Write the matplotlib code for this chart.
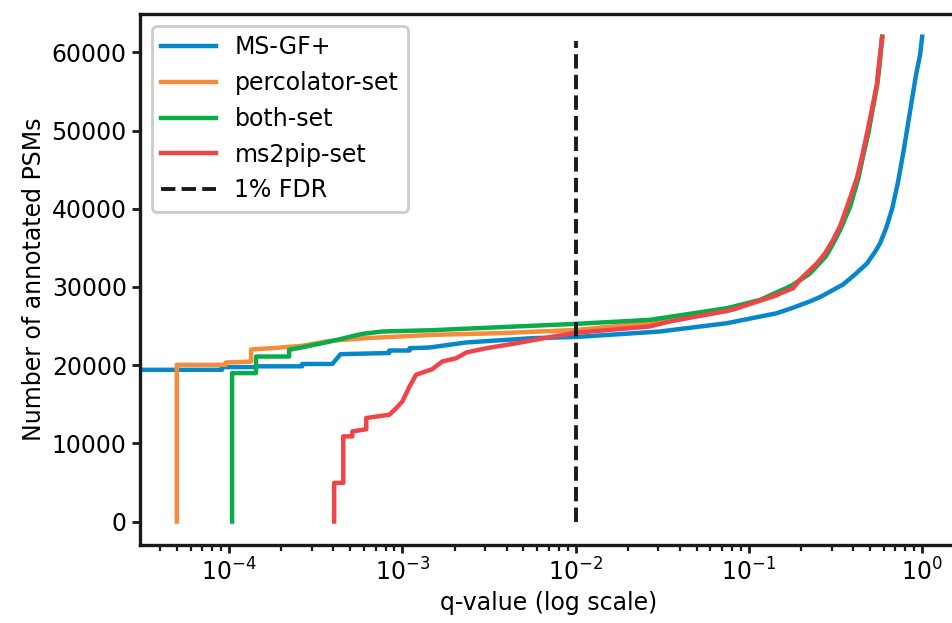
import matplotlib
matplotlib.use("Agg")
import matplotlib.pyplot as plt

# q-value / cumulative PSM count pairs
msgf_q = [1.2e-5, 9.1e-5, 9.1e-5, 1.43e-4, 1.43e-4, 2.64e-4, 2.64e-4, 3.94e-4, 4.4e-4,
          8.4e-4, 8.4e-4, 1.1e-3, 1.1e-3, 1.43e-3, 2.34e-3, 5.64e-3, 0.0101, 0.0306,
          0.0746, 0.145, 0.18, 0.225, 0.26, 0.294, 0.349, 0.41, 0.481, 0.535, 0.572,
          0.619, 0.671, 0.727, 0.787, 0.852, 0.923, 0.973, 1.0]
msgf_n = [19400, 19400, 19750, 19750, 19850, 19850, 20150, 20150, 21400,
          21550, 21870, 21870, 22170, 22250, 22900, 23450, 23600, 24300,
          25360, 26640, 27350, 28150, 28750, 29400, 30300, 31600, 33020, 34500, 35600,
          37500, 40000, 43500, 47800, 52500, 57200, 59700, 62000]

perc_q = [4.99e-5, 4.99e-5, 9.57e-5, 9.57e-5, 1.34e-4, 1.34e-4, 1.77e-4, 2.64e-4,
          3.79e-4, 6.19e-4, 1.49e-3, 3.64e-3, 0.0101, 0.03, 0.0746, 0.145, 0.197,
          0.247, 0.278, 0.306, 0.338, 0.37, 0.425, 0.455, 0.485, 0.518, 0.552,
          0.562, 0.59]
perc_n = [0, 20040, 20040, 20340, 20450, 22000, 22170, 22470,
          23100, 23450, 23870, 24090, 24500, 25500, 26900, 28900, 30900,
          33000, 34300, 35800, 37500, 40200, 44000, 46700, 49700, 52800, 56000,
          57600, 62000]

both_q = [1.04e-4, 1.04e-4, 1.43e-4, 1.43e-4, 2.22e-4, 2.22e-4, 2.54e-4, 3.79e-4,
          5.87e-4, 7.66e-4, 1.49e-3, 3.64e-3, 0.0101, 0.0268, 0.0746, 0.116, 0.180,
          0.225, 0.278, 0.306, 0.340, 0.384, 0.43, 0.455, 0.49, 0.518, 0.55,
          0.562, 0.587]
both_n = [0, 18980, 18980, 21100, 21100, 21960, 22200, 23000,
          24000, 24300, 24470, 24850, 25280, 25790, 27280, 28340, 30260,
          31700, 33900, 35500, 37500, 40250, 44000, 46700, 49700, 52800, 56000,
          57600, 62000]

ms2pip_q = [4.04e-4, 4.04e-4, 4.56e-4, 4.56e-4, 5.14e-4, 5.14e-4, 6.19e-4, 6.19e-4,
            8.41e-4, 9.23e-4, 1.0e-3, 1.10e-3, 1.20e-3, 1.49e-3, 1.70e-3, 2.05e-3,
            2.34e-3, 3.06e-3, 4.56e-3, 7.07e-3, 0.0101, 0.0268, 0.0336, 0.0809,
            0.145, 0.180, 0.197, 0.247, 0.275, 0.306, 0.336, 0.368, 0.421, 0.45,
            0.481, 0.514, 0.549, 0.557, 0.587]
ms2pip_n = [0, 4940, 4940, 10890, 10890, 11530, 11800, 13240,
            13660, 14510, 15360, 17270, 18770, 19490, 20470, 20890,
            21620, 22170, 22800, 23580, 24150, 24940, 25500, 27100,
            29000, 29830, 30900, 33000, 34300, 36000, 37800, 40200, 44000, 46700,
            49700, 52800, 56000, 57600, 61900]

fdr = 0.01

plt.rcParams["font.family"] = "DejaVu Sans"
plt.rcParams["font.size"] = 17

fig = plt.figure(figsize=(9.52, 6.23), dpi=100)
ax = fig.add_axes([140 / 952, 78 / 623, 818 / 952, 531 / 623])

lw = 3.2
ax.plot(msgf_q, msgf_n, color="#0787c9", lw=lw, label="MS-GF+")
ax.plot(perc_q, perc_n, color="#f68b3c", lw=lw, label="percolator-set")
ax.plot(both_q, both_n, color="#0aab4b", lw=lw, label="both-set")
ax.plot(ms2pip_q, ms2pip_n, color="#ef4548", lw=lw, label="ms2pip-set")
ax.vlines(fdr, 0, 61500, colors="#1a1a1a", linestyles="--", lw=2.8, label="1% FDR")

ax.set_xscale("log")
ax.set_xlim(3.06e-5, 1.61)
ax.set_ylim(-3000, 64900)
ax.set_xlabel("q-value (log scale)", fontsize=17)
ax.set_ylabel("Number of annotated PSMs", fontsize=17)

for s in ax.spines.values():
    s.set_linewidth(2.4)
    s.set_color("#1a1a1a")
ax.tick_params(which="major", length=6, width=2, color="#1a1a1a", labelsize=17)
ax.tick_params(which="minor", length=4, width=1.6, color="#1a1a1a")

leg = ax.legend(loc="upper left", fontsize=17, framealpha=1, edgecolor="#cccccc",
                handlelength=2.3)
leg.get_frame().set_linewidth(2)

fig.savefig("out.png", dpi=100)
